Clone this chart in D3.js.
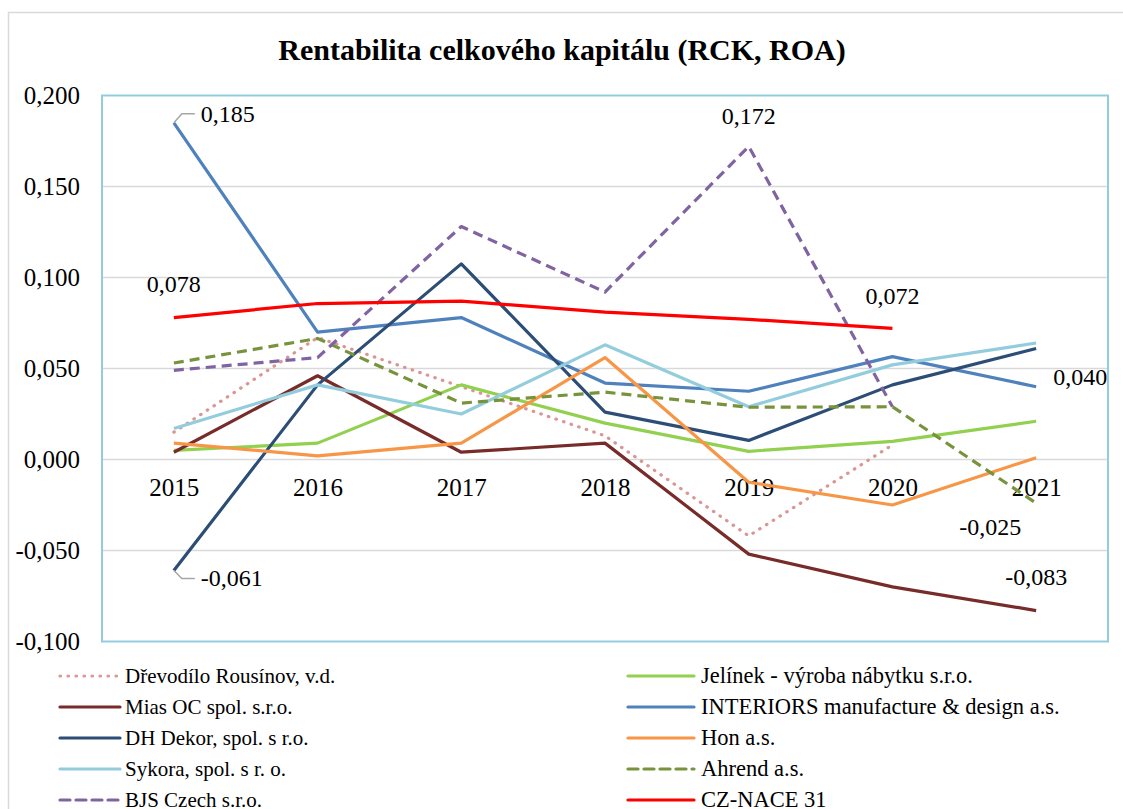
<!DOCTYPE html>
<html>
<meta charset="utf-8">
<style>
  body { margin: 0; background: #fff; }
  text { font-family: "Liberation Serif", "Times New Roman", serif; fill: #000; }
</style>
<svg width="1123" height="809"></svg>
<script src="https://d3js.org/d3.v7.min.js"></script>
<script>
  // roky na ose x
  var years = ["2015", "2016", "2017", "2018", "2019", "2020", "2021"];
  var yTicks = [-0.1, -0.05, 0, 0.05, 0.1, 0.15, 0.2];

  // hodnoty ROA jednotlivých firem (null = bez údaje)
  var drevodilo = [0.015, 0.067, 0.040, 0.013, -0.042, 0.008, null];
  var jelinek   = [0.005, 0.009, 0.041, 0.020, 0.0045, 0.010, 0.021];
  var mias      = [0.004, 0.046, 0.004, 0.009, -0.052, -0.070, -0.083];
  var interiors = [0.185, 0.070, 0.078, 0.042, 0.0375, 0.0565, 0.040];
  var dhDekor   = [-0.061, 0.041, 0.1075, 0.026, 0.0105, 0.041, 0.061];
  var hon       = [0.009, 0.002, 0.009, 0.056, -0.0125, -0.025, 0.001];
  var sykora    = [0.017, 0.041, 0.025, 0.063, 0.029, 0.052, 0.064];
  var ahrend    = [0.053, 0.0665, 0.031, 0.037, 0.0287, 0.029, -0.024];
  var bjs       = [0.049, 0.056, 0.128, 0.092, 0.172, 0.029, null];
  var nace      = [0.078, 0.0857, 0.087, 0.081, 0.077, 0.072, null];

  var series = [
    { name: "Dřevodílo Rousínov, v.d.", values: drevodilo, color: "#d99694", dash: "0.5,7.5", cap: "round" },
    { name: "Mias OC spol. s.r.o.", values: mias, color: "#772c2a" },
    { name: "DH Dekor, spol. s r.o.", values: dhDekor, color: "#2c4d75" },
    { name: "Sykora, spol. s r. o.", values: sykora, color: "#93cddd" },
    { name: "BJS Czech s.r.o.", values: bjs, color: "#8064a2", dash: "10,6" },
    { name: "Jelínek - výroba nábytku s.r.o.", values: jelinek, color: "#92d050" },
    { name: "INTERIORS manufacture & design a.s.", values: interiors, color: "#4f81bd" },
    { name: "Hon a.s.", values: hon, color: "#f79646" },
    { name: "Ahrend a.s.", values: ahrend, color: "#77933c", dash: "10,6" },
    { name: "CZ-NACE 31", values: nace, color: "#ff0000" }
  ];
  // pořadí vykreslování (jako v Excelu)
  var drawOrder = [0, 5, 1, 6, 2, 7, 3, 8, 4, 9];

  var svg = d3.select("svg");

  // rámeček grafu
  svg.append("rect").attr("x", 8.5).attr("y", 12.5).attr("width", 1130).attr("height", 820)
    .attr("fill", "none").attr("stroke", "#d9d9d9").attr("stroke-width", 1.5);

  svg.append("text").attr("x", 562).attr("y", 60).attr("text-anchor", "middle")
    .attr("font-size", 30).attr("font-weight", "bold")
    .text("Rentabilita celkového kapitálu (RCK, ROA)");

  var plotLeft = 102, plotRight = 1108, plotTop = 95.5, plotBottom = 641.5;

  var x = d3.scalePoint().domain(years).range([plotLeft, plotRight]).padding(0.5);
  var y = d3.scaleLinear().domain([-0.1, 0.2]).range([plotBottom, plotTop]);

  // mřížka
  svg.append("g").selectAll("line").data(yTicks.filter(function (d) { return d > -0.1 && d < 0.2; }))
    .enter().append("line")
    .attr("x1", plotLeft).attr("x2", plotRight)
    .attr("y1", function (d) { return y(d); }).attr("y2", function (d) { return y(d); })
    .attr("stroke", "#d9d9d9").attr("stroke-width", 1.5);

  // osa y
  var fmt = function (d) { return d3.format(".3f")(d).replace(".", ",").replace("−", "-"); };
  var yAxis = svg.append("g").attr("transform", "translate(" + plotLeft + ",0)")
    .call(d3.axisLeft(y).tickValues(yTicks).tickFormat(fmt).tickSize(0).tickPadding(22));
  yAxis.select(".domain").remove();
  yAxis.selectAll("text").attr("font-size", 25).attr("font-family", "Liberation Serif").attr("dy", "0.3em");

  // popisky let u nulové osy
  var xAxis = svg.append("g").attr("transform", "translate(0," + y(0) + ")")
    .call(d3.axisBottom(x).tickSize(0).tickPadding(19));
  xAxis.select(".domain").remove();
  xAxis.selectAll("text").attr("font-size", 25).attr("font-family", "Liberation Serif");

  // čáry
  var line = d3.line()
    .defined(function (d) { return d != null; })
    .x(function (d, i) { return x(years[i]); })
    .y(function (d) { return y(d); });

  svg.append("g").selectAll("path").data(drawOrder.map(function (i) { return series[i]; }))
    .enter().append("path")
    .attr("d", function (s) { return line(s.values); })
    .attr("fill", "none")
    .attr("stroke", function (s) { return s.color; })
    .attr("stroke-width", 3.2)
    .attr("stroke-linejoin", "round")
    .attr("stroke-linecap", function (s) { return s.cap || "butt"; })
    .attr("stroke-dasharray", function (s) { return s.dash || null; });

  // rámeček plochy
  svg.append("rect").attr("x", plotLeft).attr("y", plotTop).attr("width", plotRight - plotLeft).attr("height", plotBottom - plotTop)
    .attr("fill", "none").attr("stroke", "#93cddd").attr("stroke-width", 2);

  // datové popisky
  var labels = [
    { s: 6, i: 0, dy: -9, lead: true },
    { s: 2, i: 0, dy: 8, lead: true },
    { s: 9, i: 0, dx: 0, dy: -33 },
    { s: 4, i: 4, dx: 0, dy: -30 },
    { s: 9, i: 5, dx: 0, dy: -32 },
    { s: 6, i: 6, dx: 44, dy: -10 },
    { s: 8, i: 6, dx: -46, dy: 24 },
    { s: 1, i: 6, dx: 0, dy: -33 }
  ];
  var lg = svg.append("g");
  labels.forEach(function (l) {
    var v = series[l.s].values[l.i];
    if (l.s === 8 && l.i === 6) v = -0.025;
    var px = x(years[l.i]), py = y(series[l.s].values[l.i]);
    if (l.lead) {
      var ly = py + l.dy;
      lg.append("path")
        .attr("d", "M" + px + "," + py + "L" + (px + 8) + "," + ly + "L" + (px + 21) + "," + ly)
        .attr("fill", "none").attr("stroke", "#a6a6a6").attr("stroke-width", 1.5);
      lg.append("text").attr("x", px + 27).attr("y", ly).attr("dy", "0.33em")
        .attr("font-size", 24).text(fmt(v));
    } else {
      lg.append("text").attr("x", px + l.dx).attr("y", py + l.dy).attr("dy", "0.33em")
        .attr("text-anchor", "middle").attr("font-size", 24).text(fmt(v));
    }
  });

  // legenda
  var leg = svg.append("g").selectAll("g").data(series).enter().append("g")
    .attr("transform", function (d, i) {
      var col = Math.floor(i / 5), row = i % 5;
      return "translate(" + (col ? 628 : 60) + "," + (676 + row * 31) + ")";
    });
  leg.append("line").attr("x1", 0).attr("x2", function (d, i) { return i < 5 ? 60 : 66; })
    .attr("y1", 0).attr("y2", 0)
    .attr("stroke", function (d) { return d.color; }).attr("stroke-width", 3.2)
    .attr("stroke-linecap", function (d) { return d.cap || "round"; })
    .attr("stroke-dasharray", function (d) { return d.dash || null; });
  leg.append("text").attr("x", function (d, i) { return i < 5 ? 65 : 73; })
    .attr("y", 0).attr("dy", "0.33em")
    .attr("font-size", function (d, i) { return i < 5 ? 21 : 22.5; })
    .text(function (d) { return d.name; });
</script>
</html>
